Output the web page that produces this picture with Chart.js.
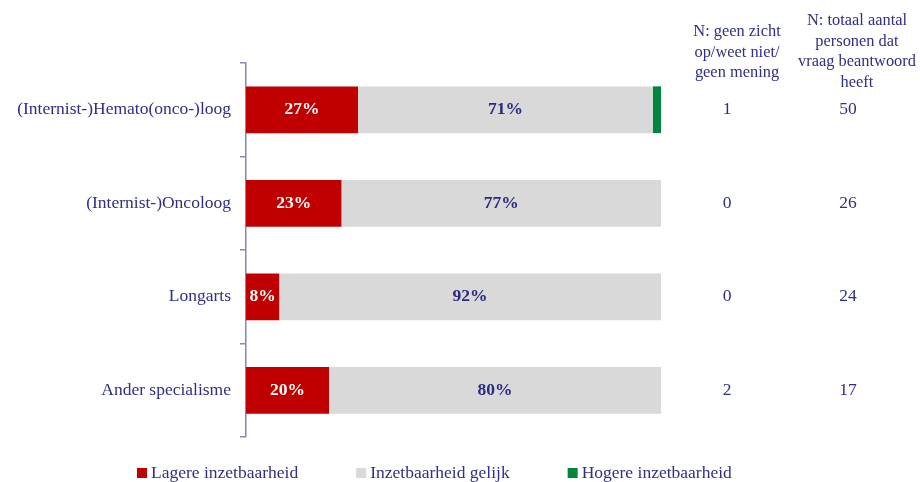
<!DOCTYPE html>
<html>
<head>
<meta charset="utf-8">
<script src="https://cdn.jsdelivr.net/npm/chart.js@4"></script>
<style>
html,body{margin:0;padding:0;background:#fff;}
#wrap{width:920px;height:482px;position:relative;}
</style>
</head>
<body>
<div id="wrap"><canvas id="c" width="920" height="482"></canvas></div>
<script>
const categories = ["(Internist-)Hemato(onco-)loog", "(Internist-)Oncoloog", "Longarts", "Ander specialisme"];
const seriesNames = ["Lagere inzetbaarheid", "Inzetbaarheid gelijk", "Hogere inzetbaarheid"];
const lagere = [27, 23, 8, 20];
const gelijk = [71, 77, 92, 80];
const hogere = [2, 0, 0, 0];
const nGeenZicht = [1, 0, 0, 2];
const nTotaal = [50, 26, 24, 17];
const headerGeenZicht = ["N: geen zicht", "op/weet niet/", "geen mening"];
const headerTotaal = ["N: totaal aantal", "personen dat", "vraag beantwoord", "heeft"];

const NAVY = '#2f2f86';
const AXIS = '#8a86b2';
const FONT = '"Liberation Serif", "DejaVu Serif", serif';
const colors = ['#C00000', '#D9D9D9', '#00853E'];
const labelColors = ['#ffffff', '#2b2b80', '#ffffff'];

const overlay = {
  id: 'overlay',
  afterDatasetsDraw(chart) {
    const ctx = chart.ctx;
    const ys = chart.scales.y;
    ctx.save();
    // bar value labels
    chart.data.datasets.forEach((ds, di) => {
      const meta = chart.getDatasetMeta(di);
      meta.data.forEach((bar, i) => {
        const v = ds.data[i];
        if (!v || di === 2) return;
        const left = Math.min(bar.x, bar.base), right = Math.max(bar.x, bar.base);
        ctx.font = 'bold 17.5px ' + FONT;
        ctx.fillStyle = labelColors[di];
        ctx.textAlign = 'center';
        ctx.textBaseline = 'middle';
        ctx.fillText(v + '%', (left + right) / 2, bar.y);
      });
    });
    // right columns
    ctx.fillStyle = NAVY;
    ctx.textAlign = 'center';
    ctx.textBaseline = 'middle';
    ctx.font = '16.4px ' + FONT;
    headerGeenZicht.forEach((t, i) => ctx.fillText(t, 737, 32 + i * 20.5));
    headerTotaal.forEach((t, i) => ctx.fillText(t, 857, 21 + i * 20.5));
    ctx.font = '17.5px ' + FONT;
    categories.forEach((c, i) => {
      const y = ys.getPixelForValue(i);
      ctx.fillText(String(nGeenZicht[i]), 727, y);
      ctx.fillText(String(nTotaal[i]), 848, y);
    });
    // legend
    ctx.font = '17.5px ' + FONT;
    ctx.textAlign = 'left';
    let x = 137;
    const ly = 473;
    chart.data.datasets.forEach((ds, di) => {
      ctx.fillStyle = ds.backgroundColor;
      ctx.fillRect(x, ly - 5, 10, 10);
      ctx.fillStyle = NAVY;
      ctx.fillText(ds.label, x + 14, ly);
      x += 14 + ctx.measureText(ds.label).width + 58;
    });
    ctx.restore();
  }
};

new Chart(document.getElementById('c'), {
  type: 'bar',
  data: {
    labels: categories,
    datasets: [
      { label: seriesNames[0], data: lagere, backgroundColor: colors[0] },
      { label: seriesNames[1], data: gelijk, backgroundColor: colors[1] },
      { label: seriesNames[2], data: hogere, backgroundColor: colors[2] }
    ]
  },
  options: {
    indexAxis: 'y',
    responsive: false,
    animation: false,
    devicePixelRatio: 1,
    layout: { padding: { left: 0, right: 259, top: 63, bottom: 45 } },
    datasets: { bar: { barPercentage: 0.5, categoryPercentage: 1.0, borderWidth: 0 } },
    plugins: { legend: { display: false }, tooltip: { enabled: false } },
    scales: {
      x: { stacked: true, min: 0, max: 100, display: false },
      y: {
        stacked: true,
        afterFit(scale) { scale.width = 246; },
        border: { display: true, color: AXIS, width: 1.5 },
        grid: { drawOnChartArea: false, drawTicks: true, tickLength: 6, color: AXIS, lineWidth: 1.5, offset: true },
        ticks: { color: NAVY, padding: 9, font: { family: FONT, size: 17.5 } }
      }
    }
  },
  plugins: [overlay]
});
</script>
</body>
</html>
